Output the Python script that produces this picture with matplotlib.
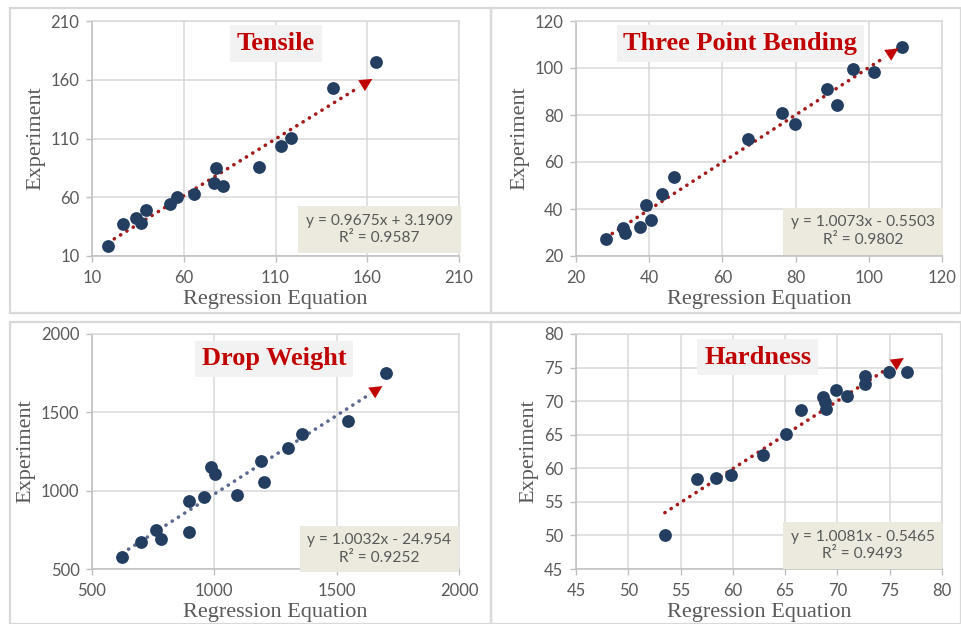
import matplotlib
matplotlib.use("Agg")
import matplotlib.pyplot as plt
from matplotlib.patches import Rectangle
import numpy as np

# ---- data ----
titles = ["Tensile", "Three Point Bending", "Drop Weight", "Hardness"]

tensile_x = [18.7, 27.1, 34.0, 36.5, 39.4, 52.5, 56.2, 65.4, 77.6, 76.3, 81.2,
             101.2, 113.0, 118.4, 141.3, 164.8]
tensile_y = [18.5, 37.0, 42.0, 38.3, 48.9, 54.5, 60.0, 62.8, 84.9, 72.1, 70.0,
             86.0, 103.4, 110.7, 153.0, 175.0]

bending_x = [28.2, 32.8, 33.5, 37.4, 39.2, 40.4, 43.6, 46.8, 66.9, 76.3, 79.9,
             88.7, 91.4, 95.6, 101.4, 109.1]
bending_y = [27.1, 32.0, 29.6, 32.5, 41.7, 35.2, 46.2, 53.7, 69.8, 80.7, 76.1,
             90.9, 84.4, 99.7, 98.3, 108.8]

drop_x = [624, 700, 760, 783, 898, 898, 956, 985, 1004, 1094, 1191, 1204,
          1300, 1358, 1548, 1702]
drop_y = [578, 672, 748, 693, 937, 733, 958, 1150, 1109, 975, 1188, 1058,
          1275, 1360, 1445, 1749]

hard_x = [53.5, 56.6, 58.4, 59.8, 62.9, 65.1, 66.5, 68.6, 68.8, 68.9, 69.9,
          70.9, 72.6, 72.6, 74.9, 76.7]
hard_y = [50.0, 58.4, 58.6, 59.0, 62.0, 65.1, 68.7, 70.6, 69.8, 68.8, 71.6,
          70.8, 73.8, 72.5, 74.4, 74.4]

slopes = [0.9675, 1.0073, 1.0032, 1.0081]
intercepts = [3.1909, -0.5503, -24.954, -0.5465]
r2 = [0.9587, 0.9802, 0.9252, 0.9493]
eq_texts = ["y = 0.9675x + 3.1909", "y = 1.0073x - 0.5503",
            "y = 1.0032x - 24.954", "y = 1.0081x - 0.5465"]

ticks = [[10, 60, 110, 160, 210],
         [20, 40, 60, 80, 100, 120],
         [500, 1000, 1500, 2000],
         [45, 50, 55, 60, 65, 70, 75, 80]]

xs = [tensile_x, bending_x, drop_x, hard_x]
ys = [tensile_y, bending_y, drop_y, hard_y]

# ---- layout (pixels) ----
W, H = 961, 624
fig = plt.figure(figsize=(W / 100, H / 100), dpi=100)
fig.patch.set_facecolor("white")

def px_axes(left, top, right, bottom):
    return fig.add_axes([left / W, 1 - bottom / H, (right - left) / W, (bottom - top) / H])

axes_px = [(92, 21, 459, 256), (576, 21, 942, 256),
           (92, 334, 459, 569), (576, 334, 942, 569)]
title_pos = [(0.501, 0.904), (0.449, 0.904), (0.496, 0.894), (0.497, 0.902)]
eq_pos = [(0.783, 0.113), (0.784, 0.106), (0.783, 0.085), (0.783, 0.10)]
trend_colors = ["#A31A1A", "#A31A1A", "#5B6A8E", "#A31A1A"]

# panel borders
border = "#D9D9D9"
for (l, t, r, b) in [(10, 8, 491, 313), (491, 8, 961, 313),
                     (10, 322, 491, 624), (491, 322, 961, 624)]:
    fig.patches.append(Rectangle((l / W, 1 - b / H), (r - l) / W, (b - t) / H,
                                 transform=fig.transFigure, fill=False,
                                 edgecolor=border, lw=1.6, zorder=0))

tick_font = "Lato"
gray = "#595959"

for i in range(4):
    ax = px_axes(*axes_px[i])
    x = np.array(xs[i])
    y = np.array(ys[i])
    lo, hi = ticks[i][0], ticks[i][-1]
    ax.set_xlim(lo, hi)
    ax.set_ylim(lo, hi)
    ax.set_xticks(ticks[i])
    ax.set_yticks(ticks[i])
    ax.grid(True, color="#D9D9D9", lw=1.1)
    ax.set_axisbelow(True)
    for s in ax.spines.values():
        s.set_color("#D9D9D9")
        s.set_linewidth(1.1)
    ax.spines["left"].set_color("#BFBFBF")
    ax.spines["bottom"].set_color("#BFBFBF")
    ax.tick_params(direction="out", length=4, width=1, color="#BFBFBF",
                   labelsize=12, labelcolor=gray)
    ax.tick_params(axis="x", pad=6)
    ax.tick_params(axis="y", pad=5)
    for lab in ax.get_xticklabels() + ax.get_yticklabels():
        lab.set_fontfamily(tick_font)

    ax.set_xlabel("Regression Equation", family="Liberation Serif", fontsize=16,
                  color=gray, labelpad=3)
    ax.set_ylabel("Experiment", family="Liberation Serif", fontsize=16,
                  color=gray, labelpad=4)

    ax.scatter(x, y, s=85, color="#243E62", zorder=3, linewidths=0)

    # trendline ending in an arrow head
    span = hi - lo
    x0 = x.min()
    xt = x.max() - span * 0.01
    xa = xt - span * 0.04
    ax.plot([x0, xa], [slopes[i] * x0 + intercepts[i], slopes[i] * xa + intercepts[i]],
            color=trend_colors[i], lw=2.6, linestyle=(0, (0.05, 2.0)),
            dash_capstyle="round", zorder=2)
    ax.annotate("", xy=(xt, slopes[i] * xt + intercepts[i]),
                xytext=(xa, slopes[i] * xa + intercepts[i]),
                arrowprops=dict(arrowstyle="-|>,head_length=0.9,head_width=0.45",
                                color="#C00000", lw=0.1, shrinkA=0, shrinkB=0),
                zorder=4)

    tx, ty = title_pos[i]
    ax.text(tx, ty, titles[i], transform=ax.transAxes, ha="center", va="center",
            family="Liberation Serif", fontweight="bold", fontsize=19, color="#C00000",
            bbox=dict(boxstyle="square,pad=0.26", facecolor="#F2F2F2", edgecolor="none"),
            zorder=5)

    ex, ey = eq_pos[i]
    ax.text(ex, ey, eq_texts[i] + "\nR² = %.4f" % r2[i], transform=ax.transAxes,
            ha="center", va="center", multialignment="center",
            family=tick_font, fontsize=11.2, color=gray, linespacing=1.3,
            bbox=dict(boxstyle="square,pad=0.5", facecolor="#ECEADF", edgecolor="none"),
            zorder=5)

fig.savefig("out.png", dpi=100, facecolor="white")
